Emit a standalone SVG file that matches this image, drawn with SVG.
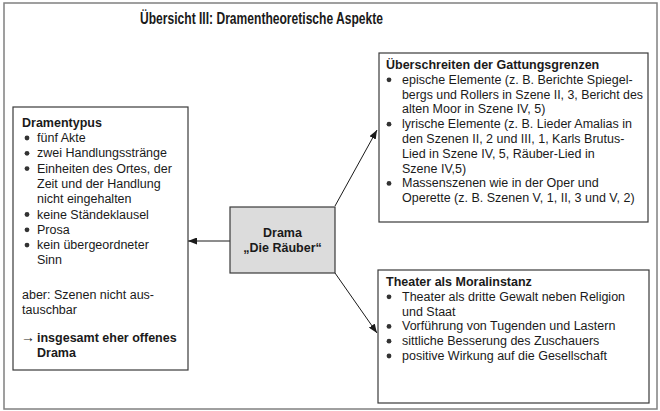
<svg xmlns="http://www.w3.org/2000/svg" width="660" height="411" viewBox="0 0 660 411">
<defs>
<style>
text{font-family:"Liberation Sans",Arial,sans-serif;fill:#1a1a1a;font-size:12.5px}
.b{font-weight:bold}
.box{fill:#ffffff;stroke:#3a3a3a;stroke-width:1.2}
.dot{fill:#333}
.conn{stroke:#1a1a1a;stroke-width:1;fill:none}
</style>
<marker id="ah" markerWidth="9" markerHeight="7" refX="9" refY="3.5" orient="auto" markerUnits="userSpaceOnUse">
<path d="M0,0 L9,3.5 L0,7 z" fill="#1a1a1a"/>
</marker>
</defs>
<rect width="660" height="411" fill="#ffffff"/>
<rect x="4" y="3" width="653" height="406" fill="none" stroke="#808080" stroke-width="1.5"/>
<text class="b" x="140" y="24" textLength="243" lengthAdjust="spacingAndGlyphs" style="font-size:16.5px">Übersicht III: Dramentheoretische Aspekte</text>

<g id="connectors">
<line class="conn" x1="230" y1="241" x2="188" y2="241" marker-end="url(#ah)"/>
<line class="conn" x1="335" y1="206" x2="377" y2="130" marker-end="url(#ah)"/>
<line class="conn" x1="335" y1="273" x2="377" y2="333" marker-end="url(#ah)"/>
</g>

<g id="drama">
<rect x="230" y="207" width="105" height="66" fill="#dcdcdc" stroke="#3a3a3a" stroke-width="1.2"/>
<text class="b" x="282.5" y="237" text-anchor="middle">Drama</text>
<text class="b" x="282.5" y="252" text-anchor="middle">„Die Räuber“</text>
</g>

<g id="dramentypus">
<rect class="box" x="13" y="107" width="175" height="263"/>
<text class="b" x="22" y="127">Dramentypus</text>
<circle class="dot" cx="27" cy="138" r="2.4"/>
<text x="37" y="142">fünf Akte</text>
<circle class="dot" cx="27" cy="153.3" r="2.4"/>
<text x="37" y="157.3">zwei Handlungsstränge</text>
<circle class="dot" cx="27" cy="168.6" r="2.4"/>
<text x="37" y="172.6">Einheiten des Ortes, der</text>
<text x="37" y="187.9">Zeit und der Handlung</text>
<text x="37" y="203.2">nicht eingehalten</text>
<circle class="dot" cx="27" cy="214.5" r="2.4"/>
<text x="37" y="218.5">keine Ständeklausel</text>
<circle class="dot" cx="27" cy="229.8" r="2.4"/>
<text x="37" y="233.8">Prosa</text>
<circle class="dot" cx="27" cy="245.1" r="2.4"/>
<text x="37" y="249.1">kein übergeordneter</text>
<text x="37" y="264.4">Sinn</text>
<text x="22" y="299">aber: Szenen nicht aus-</text>
<text x="22" y="313.5">tauschbar</text>
<text x="21" y="342" style="font-size:14px">→</text>
<text class="b" x="37" y="342">insgesamt eher offenes</text>
<text class="b" x="37" y="357">Drama</text>
</g>

<g id="gattungsgrenzen">
<rect class="box" x="379" y="53" width="269" height="169"/>
<text class="b" x="386" y="69">Überschreiten der Gattungsgrenzen</text>
<circle class="dot" cx="389" cy="79.8" r="2.4"/>
<text x="402" y="83.8">epische Elemente (z. B. Berichte Spiegel-</text>
<text x="402" y="98.6" textLength="241" lengthAdjust="spacingAndGlyphs">bergs und Rollers in Szene II, 3, Bericht des</text>
<text x="402" y="113.4">alten Moor in Szene IV, 5)</text>
<circle class="dot" cx="389" cy="124.2" r="2.4"/>
<text x="402" y="128.2">lyrische Elemente (z. B. Lieder Amalias in</text>
<text x="402" y="143">den Szenen II, 2 und III, 1, Karls Brutus-</text>
<text x="402" y="157.8">Lied in Szene IV, 5, Räuber-Lied in</text>
<text x="402" y="172.6">Szene IV,5)</text>
<circle class="dot" cx="389" cy="183.4" r="2.4"/>
<text x="402" y="187.4">Massenszenen wie in der Oper und</text>
<text x="402" y="202.2">Operette (z. B. Szenen V, 1, II, 3 und V, 2)</text>
</g>

<g id="moralinstanz">
<rect class="box" x="378" y="270" width="271" height="133"/>
<text class="b" x="386" y="286">Theater als Moralinstanz</text>
<circle class="dot" cx="389" cy="296.8" r="2.4"/>
<text x="402" y="300.8">Theater als dritte Gewalt neben Religion</text>
<text x="402" y="315.6">und Staat</text>
<circle class="dot" cx="389" cy="326.4" r="2.4"/>
<text x="402" y="330.4">Vorführung von Tugenden und Lastern</text>
<circle class="dot" cx="389" cy="341.2" r="2.4"/>
<text x="402" y="345.2">sittliche Besserung des Zuschauers</text>
<circle class="dot" cx="389" cy="356" r="2.4"/>
<text x="402" y="360">positive Wirkung auf die Gesellschaft</text>
</g>
</svg>
